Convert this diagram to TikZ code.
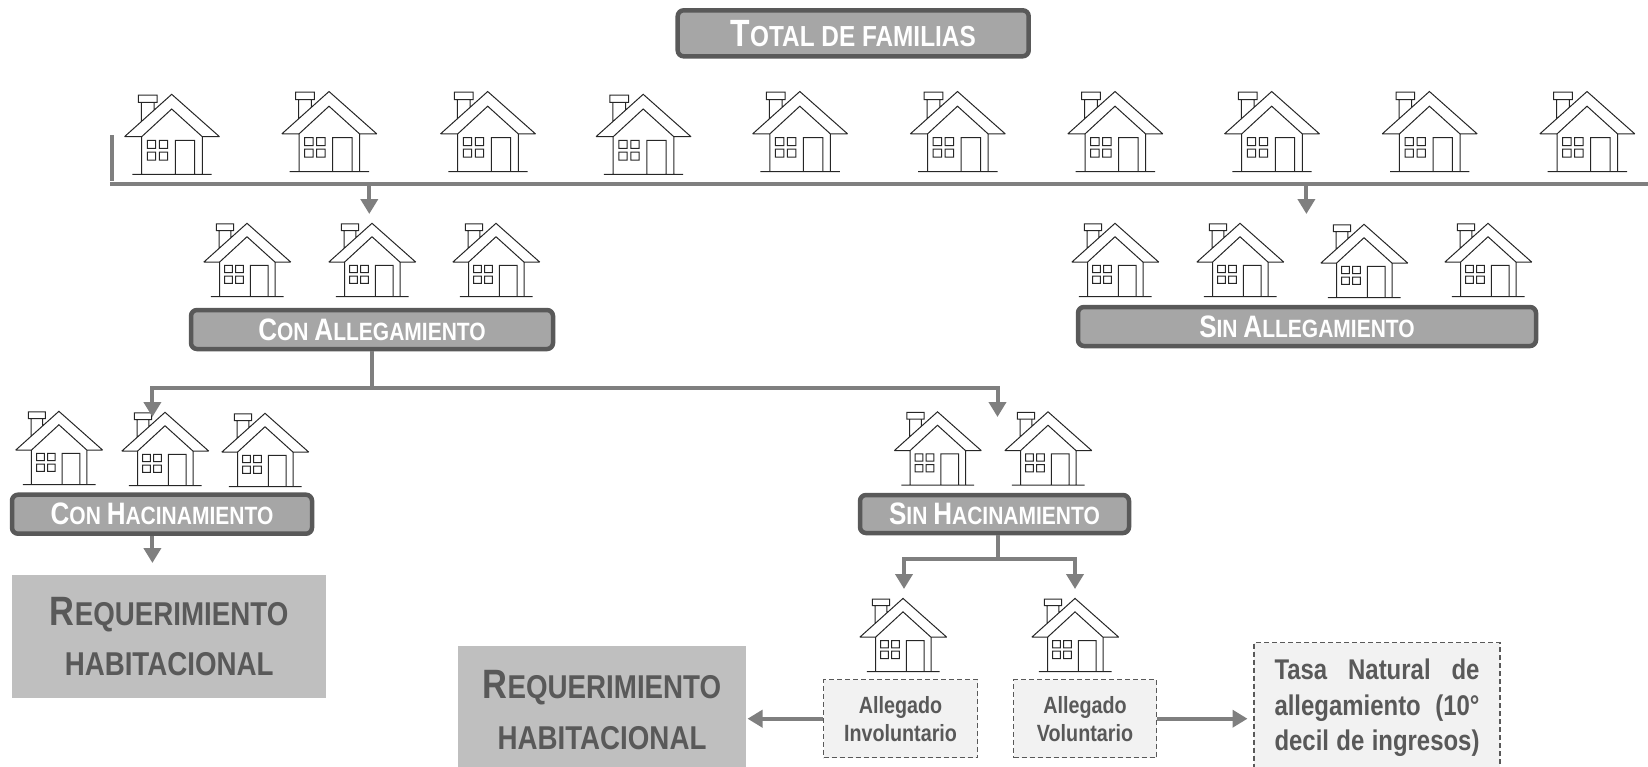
\documentclass[tikz,border=0pt]{standalone}
\usepackage{fontspec}
\setmainfont{Liberation Sans}
\newfontfamily\narrowfont[FakeStretch=0.84]{Liberation Sans}
\usetikzlibrary{arrows.meta}

\definecolor{boxFill}{HTML}{A6A6A6}
\definecolor{boxEdge}{HTML}{595959}
\definecolor{flowGray}{HTML}{7F7F7F}
\definecolor{reqFill}{HTML}{BFBFBF}
\definecolor{noteFill}{HTML}{F2F2F2}
\definecolor{houseLine}{HTML}{262626}

% big first letter, small rest
\newcommand{\bigsmall}[4]{{\fontsize{#1}{#1}\selectfont #3}{\fontsize{#2}{#2}\selectfont #4}}

\tikzset{
    titlebox/.style={draw=boxEdge, fill=boxFill, line width=4.5pt, rounded corners=6pt, text=white,
        inner sep=0pt, font=\narrowfont\bfseries},
    reqbox/.style={fill=reqFill, text=boxEdge, inner sep=0pt, align=center, font=\narrowfont\bfseries},
    notebox/.style={draw=boxEdge, fill=noteFill, dash pattern=on 5pt off 3pt, line width=1.3pt, text=boxEdge,
        inner sep=0pt, align=center, font=\narrowfont\bfseries\fontsize{23.5pt}{28pt}\selectfont},
    flow/.style={draw=flowGray, line width=4pt, -{Triangle[length=15pt,width=17pt]}},
    bar/.style={draw=flowGray, line width=4pt},
    house/.pic={
        \draw[houseLine, line width=1pt, line join=miter]
            % roof
            (-47.2,-37.6) -- (0,-80) -- (47.8,-37.6)
            (-47.2,-37.6) -- (-30,-37.6) -- (0,-65.3) -- (30.6,-37.6) -- (47.8,-37.6)
            % walls
            (-30,-37.6) -- (-30,0)
            (30.6,-37.6) -- (30.6,0)
            (-39.4,0) -- (40,0)
            % door
            (3.6,0) -- (3.6,-34) -- (23,-34) -- (23,0)
            % windows
            (-24.4,-34) rectangle (-16,-26)
            (-12.4,-34) rectangle (-4,-26)
            (-24.4,-22.3) rectangle (-16,-14.3)
            (-12.4,-22.3) rectangle (-4,-14.3)
            % chimney
            (-33.4,-79.3) rectangle (-14.7,-72)
            (-30.4,-72) -- (-30.4,-52.4)
            (-17.7,-72) -- (-17.7,-63.9);
    }
}

\begin{document}
\begin{tikzpicture}[x=1pt,y=-1pt]
    \useasboundingbox (0,0) rectangle (1648,766);

    % top row
    \foreach \hx/\hy in {171.7/174.3, 329/171.5, 487.7/171.5, 643.2/174.3, 799.8/171.5,
                         957.5/171.5, 1115/171.5, 1271.7/171.5, 1429.4/171.5, 1587/171.5}
        \pic at (\hx,\hy) {house};

    % smaller houses
    \foreach \hx/\hy in {247/296.5, 372/296.5, 496/296.5, 1115/296.5, 1240/296.5, 1364/297.5, 1488/296.5,
                         58.9/484.5, 165/485.5, 265/486.5, 937.5/485, 1048/485, 903/671.6, 1075/671.6}
        \pic[scale=0.915] at (\hx,\hy) {house};

    \node[titlebox, minimum width=351pt, minimum height=46pt] (totalFam) at (853.2,33.3)
        {\bigsmall{38pt}{29pt}{T}{OTAL DE FAMILIAS}};
    \node[titlebox, minimum width=362pt, minimum height=39pt] (conAlleg) at (372,329.5)
        {\bigsmall{31pt}{25pt}{C}{ON }\bigsmall{31pt}{25pt}{A}{LLEGAMIENTO}};
    \node[titlebox, minimum width=458pt, minimum height=39pt] (sinAlleg) at (1307,326.5)
        {\bigsmall{31pt}{25pt}{S}{IN }\bigsmall{31pt}{25pt}{A}{LLEGAMIENTO}};
    \node[titlebox, minimum width=300pt, minimum height=39pt] (conHac) at (162,514.2)
        {\bigsmall{31pt}{25pt}{C}{ON }\bigsmall{31pt}{25pt}{H}{ACINAMIENTO}};
    \node[titlebox, minimum width=269pt, minimum height=38pt] (sinHac) at (994.5,514)
        {\bigsmall{31pt}{25pt}{S}{IN }\bigsmall{31pt}{25pt}{H}{ACINAMIENTO}};

    \node[reqbox, minimum width=313.7pt, minimum height=122.7pt] (reqLeft) at (169.2,636.4)
        {\bigsmall{41pt}{33pt}{R}{EQUERIMIENTO}\\[20pt]\bigsmall{33pt}{33pt}{H}{ABITACIONAL}};
    \node[reqbox, minimum width=288pt, minimum height=128pt] (reqRight) at (602,710)
        {\bigsmall{41pt}{33pt}{R}{EQUERIMIENTO}\\[20pt]\bigsmall{33pt}{33pt}{H}{ABITACIONAL}};

    \node[notebox, minimum width=154pt, minimum height=78pt] (involAlleg) at (900.5,718.7)
        {Allegado\\Involuntario};
    \node[notebox, minimum width=143pt, minimum height=78pt] (volAlleg) at (1085,718.7)
        {Allegado\\Voluntario};
    \node[notebox, minimum width=246pt, minimum height=131pt,
          font=\narrowfont\bfseries\fontsize{28.5pt}{35.5pt}\selectfont] (tasaNat) at (1377,708)
        {\makebox[205pt][s]{Tasa Natural de}\\\makebox[205pt][s]{allegamiento (10°}\\\makebox[205pt][s]{decil de ingresos)}};

    % bar under the houses
    \coordinate (barLeft) at (110,184.3);
    \coordinate (barRight) at (1648,184.3);
    \coordinate (barTop) at (112.3,135);
    \coordinate (barEnd) at (112.3,180.7);
    \draw[bar] (barLeft) -- (barRight);
    \draw[bar] (barTop) -- (barEnd);

    \coordinate (tipCon) at (369.3,214);
    \coordinate (tipSin) at (1306.4,214);
    \draw[flow] (barLeft -| tipCon) -- (tipCon);
    \draw[flow] (barLeft -| tipSin) -- (tipSin);

    % con allegamiento
    \coordinate (splitA) at (372,388);
    \coordinate (tipConHac) at (152.4,417);
    \coordinate (tipSinHac) at (997.5,417);
    \draw[bar] (conAlleg.south) -- (splitA);
    \draw[flow] (splitA) -| (tipConHac);
    \draw[flow] (splitA) -| (tipSinHac);

    \coordinate (tipReq) at (152.4,563);
    \draw[flow] (conHac.south -| tipReq) -- (tipReq);

    % sin hacinamiento
    \coordinate (splitB) at (997.5,559);
    \coordinate (tipInvol) at (904,589);
    \coordinate (tipVol) at (1075,589);
    \draw[bar] (sinHac.south -| splitB) -- (splitB);
    \draw[flow] (splitB) -| (tipInvol);
    \draw[flow] (splitB) -| (tipVol);

    \coordinate (tipInvolReq) at (747.5,718.7);
    \coordinate (tipTasa) at (1247.5,718.7);
    \draw[flow] (involAlleg.west) -- (tipInvolReq);
    \draw[flow] (volAlleg.east) -- (tipTasa);
\end{tikzpicture}
\end{document}
